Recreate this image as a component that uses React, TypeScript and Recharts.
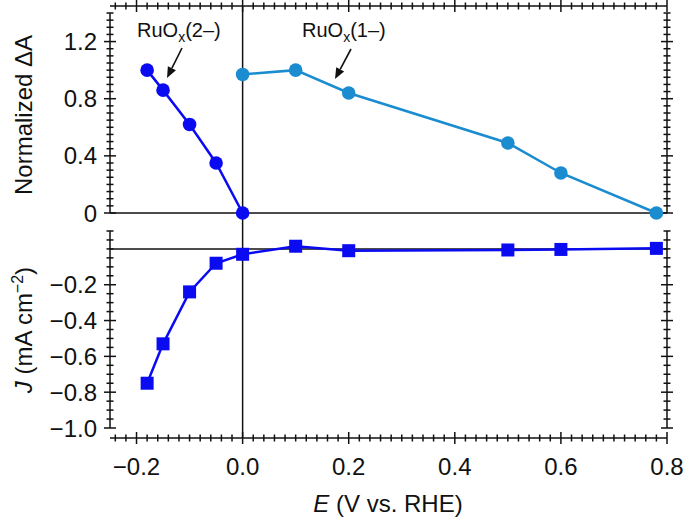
import { LineChart, Line, XAxis, YAxis, ReferenceLine, Customized } from 'recharts';

// RuOx(2-) : potential (V vs RHE) and normalized dA
const E_2 = [-0.18, -0.15, -0.1, -0.05, 0.0];
const dA_2 = [1.0, 0.86, 0.62, 0.35, 0.0];

// RuOx(1-)
const E_1 = [0.0, 0.1, 0.2, 0.5, 0.6, 0.78];
const dA_1 = [0.97, 1.0, 0.84, 0.49, 0.28, 0.0];

// current density (mA cm-2)
const E_J = [-0.18, -0.15, -0.1, -0.05, 0.0, 0.1, 0.2, 0.5, 0.6, 0.78];
const J = [-0.75, -0.53, -0.24, -0.08, -0.03, 0.015, -0.01, -0.006, -0.003, 0.003];

const X_MAJOR = [-0.2, 0, 0.2, 0.4, 0.6, 0.8];
const TOP_MAJOR = [0, 0.4, 0.8, 1.2];
const BOT_MAJOR = [-1.0, -0.8, -0.6, -0.4, -0.2];

const range = (a: number, b: number, step: number) => {
  const out: number[] = [];
  const n = Math.round((b - a) / step);
  for (let i = 0; i <= n; i++) out.push(+(a + i * step).toFixed(3));
  return out;
};
const X_TICKS = range(-0.24, 0.8, 0.02);
const TOP_TICKS = range(0, 1.4, 0.05);
const BOT_TICKS = range(-1.0, 0.1, 0.05);

const ruox2 = E_2.map((x, i) => ({ x, y: dA_2[i] }));
const ruox1 = E_1.map((x, i) => ({ x, y: dA_1[i] }));
const current = E_J.map((x, i) => ({ x, y: J[i] }));

const X_DOMAIN: [number, number] = [-0.25, 0.8];
const TOP_DOMAIN: [number, number] = [0, 1.4];
const BOT_DOMAIN: [number, number] = [-1.0, 0.1];

const BLUE = '#0b0bf2';
const LIGHT = '#1a8ccf';
const INK = '#111111';
const FONT = '"Liberation Sans", Arial, Helvetica, sans-serif';

// plot boxes (axes are detached from each other, so each lives in its own layer)
const M_TOP = { top: 13, right: 18, bottom: 308, left: 110 };
const M_BOT = { top: 231, right: 18, bottom: 93, left: 110 };
const M_X = { top: 6, right: 18, bottom: 83, left: 110 };
const leftOf = (m: any) => ({ ...m, left: m.left - 60 });
const rightOf = (m: any) => ({ ...m, right: m.right - 10 });

const fmtY = (v: number) => (Math.abs(v) < 1e-9 ? '0' : v.toFixed(1).replace('-', '\u2212'));
const fmtX = (v: number) => (Math.abs(v) < 1e-9 ? '0.0' : v.toFixed(1).replace('-', '\u2212'));
const isMajor = (majors: number[], v: number) => majors.some((m) => Math.abs(m - v) < 1e-6);

// cross tick through the axis line
const tickPath = (dir: 'x' | 'y', majors: number[]) => (p: any) => {
  const len = isMajor(majors, p.payload.value) ? 6 : 3.5;
  const x = Number(p.x);
  const y = Number(p.y);
  const d = dir === 'y' ? `M${x - len},${y}H${x + len}` : `M${x},${y - len}V${y + len}`;
  return <path d={d} stroke={INK} strokeWidth={1.5} fill="none" />;
};

const yLabel = (p: any) => (
  <text x={Number(p.x) - 13} y={Number(p.y)} dy="0.36em" textAnchor="end" fontSize={24} fontFamily={FONT} fill={INK}>
    {fmtY(p.payload.value)}
  </text>
);

const xLabel = (p: any) => (
  <text x={Number(p.x)} y={Number(p.y) + 37} textAnchor="middle" fontSize={24} fontFamily={FONT} fill={INK}>
    {fmtX(p.payload.value)}
  </text>
);

const Arrow = ({ x1, y1, x2, y2 }: { x1: number; y1: number; x2: number; y2: number }) => {
  const a = Math.atan2(y2 - y1, x2 - x1);
  const L = 11;
  const w = 4.5;
  const bx = x2 - L * Math.cos(a);
  const by = y2 - L * Math.sin(a);
  const px = -Math.sin(a) * w;
  const py = Math.cos(a) * w;
  return (
    <g>
      <line x1={x1} y1={y1} x2={bx} y2={by} stroke={INK} strokeWidth={1.6} />
      <polygon points={`${x2},${y2} ${bx + px},${by + py} ${bx - px},${by - py}`} fill={INK} />
    </g>
  );
};

const Annotations = () => (
  <g fontFamily={FONT} fill={INK}>
    <text x={137} y={37} fontSize={20}>
      RuO<tspan fontSize={14} dy={5}>x</tspan>
      <tspan dy={-5}>(2–)</tspan>
    </text>
    <text x={302} y={37} fontSize={20}>
      RuO<tspan fontSize={14} dy={5}>x</tspan>
      <tspan dy={-5}>(1–)</tspan>
    </text>
    <Arrow x1={182} y1={48} x2={167} y2={78} />
    <Arrow x1={351} y1={49} x2={335} y2={79} />
    <text transform="translate(32,115) rotate(-90)" textAnchor="middle" fontSize={24}>
      Normalized ΔA
    </text>
    <text transform="translate(32,330) rotate(-90)" textAnchor="middle" fontSize={24}>
      <tspan fontStyle="italic">J</tspan> (mA cm<tspan fontSize={16} dy={-9}>−2</tspan>
      <tspan dy={9}>)</tspan>
    </text>
    <text x={388} y={512} textAnchor="middle" fontSize={24}>
      <tspan fontStyle="italic">E</tspan> (V vs. RHE)
    </text>
  </g>
);

const layer: React.CSSProperties = { position: 'absolute', left: 0, top: 0 };

// invisible series so that every layer's axes carry data
const Ghost = ({ data }: { data: { x: number; y: number }[] }) => (
  <Line data={data} dataKey="y" stroke="none" dot={false} activeDot={false} isAnimationActive={false} />
);

const HiddenX = () => <XAxis type="number" dataKey="x" domain={X_DOMAIN} hide />;

export default function App() {
  return (
    <div style={{ position: 'absolute', left: 0, top: 0, width: 685, height: 521, background: '#fff' }}>
      {/* top x axis + x = 0 guide running through both panels */}
      <div style={layer}>
        <LineChart width={685} height={521} margin={M_X}>
          <XAxis type="number" dataKey="x" domain={X_DOMAIN} ticks={X_TICKS} interval={0} orientation="top" mirror
            tickSize={0} tickMargin={0} tickLine={false} tick={tickPath('x', X_MAJOR)} axisLine={{ stroke: INK, strokeWidth: 1.5 }} />
          <YAxis hide />
          <ReferenceLine x={0} stroke={INK} strokeWidth={1.5} />
          {Ghost({ data: current })}
        </LineChart>
      </div>

      {/* bottom x axis */}
      <div style={layer}>
        <LineChart width={685} height={521} margin={M_X}>
          <XAxis type="number" dataKey="x" domain={X_DOMAIN} ticks={X_TICKS} interval={0} orientation="bottom" mirror
            tickSize={0} tickMargin={0} tickLine={false} tick={tickPath('x', X_MAJOR)} axisLine={{ stroke: INK, strokeWidth: 1.5 }} />
          <YAxis hide />
          {Ghost({ data: current })}
        </LineChart>
      </div>

      {/* bottom x tick labels */}
      <div style={layer}>
        <LineChart width={685} height={521} margin={M_X}>
          <XAxis type="number" dataKey="x" domain={X_DOMAIN} ticks={X_MAJOR} interval={0} orientation="bottom" mirror
            tickSize={0} tickMargin={0} tickLine={false} tick={xLabel} axisLine={false} />
          <YAxis hide />
          {Ghost({ data: current })}
        </LineChart>
      </div>

      {/* upper panel: right axis */}
      <div style={layer}>
        <LineChart width={685} height={521} margin={rightOf(M_TOP)}>
          {HiddenX()}
          <YAxis orientation="right" type="number" domain={TOP_DOMAIN} ticks={TOP_TICKS} interval={0} width={10}
            tickSize={0} tickMargin={0} tickLine={false} tick={tickPath('y', TOP_MAJOR)} axisLine={{ stroke: INK, strokeWidth: 1.5 }} />
          {Ghost({ data: ruox1 })}
        </LineChart>
      </div>

      {/* upper panel: left tick labels */}
      <div style={layer}>
        <LineChart width={685} height={521} margin={leftOf(M_TOP)}>
          {HiddenX()}
          <YAxis type="number" domain={TOP_DOMAIN} ticks={TOP_MAJOR} interval={0} width={60}
            tickSize={0} tickMargin={0} tickLine={false} tick={yLabel} axisLine={false} />
          {Ghost({ data: ruox1 })}
        </LineChart>
      </div>

      {/* upper panel: normalized absorbance change */}
      <div style={layer}>
        <LineChart width={685} height={521} margin={leftOf(M_TOP)}>
          {HiddenX()}
          <YAxis type="number" domain={TOP_DOMAIN} ticks={TOP_TICKS} interval={0} width={60}
            tickSize={0} tickMargin={0} tickLine={false} tick={tickPath('y', TOP_MAJOR)} axisLine={{ stroke: INK, strokeWidth: 1.5 }} />
          <ReferenceLine y={0} stroke={INK} strokeWidth={1.5} />
          <Line data={ruox2} dataKey="y" type="linear" stroke={BLUE} strokeWidth={2.5}
            dot={{ r: 6.8, fill: BLUE, stroke: 'none' }} activeDot={false} isAnimationActive={false} />
          <Line data={ruox1} dataKey="y" type="linear" stroke={LIGHT} strokeWidth={2.5}
            dot={{ r: 6.8, fill: LIGHT, stroke: 'none' }} activeDot={false} isAnimationActive={false} />
          <Customized component={Annotations} />
        </LineChart>
      </div>

      {/* lower panel: right axis */}
      <div style={layer}>
        <LineChart width={685} height={521} margin={rightOf(M_BOT)}>
          {HiddenX()}
          <YAxis orientation="right" type="number" domain={BOT_DOMAIN} ticks={BOT_TICKS} interval={0} width={10}
            tickSize={0} tickMargin={0} tickLine={false} tick={tickPath('y', BOT_MAJOR)} axisLine={{ stroke: INK, strokeWidth: 1.5 }} />
          {Ghost({ data: current })}
        </LineChart>
      </div>

      {/* lower panel: left tick labels */}
      <div style={layer}>
        <LineChart width={685} height={521} margin={leftOf(M_BOT)}>
          {HiddenX()}
          <YAxis type="number" domain={BOT_DOMAIN} ticks={BOT_MAJOR} interval={0} width={60}
            tickSize={0} tickMargin={0} tickLine={false} tick={yLabel} axisLine={false} />
          {Ghost({ data: current })}
        </LineChart>
      </div>

      {/* lower panel: current density */}
      <div style={layer}>
        <LineChart width={685} height={521} margin={leftOf(M_BOT)}>
          {HiddenX()}
          <YAxis type="number" domain={BOT_DOMAIN} ticks={BOT_TICKS} interval={0} width={60}
            tickSize={0} tickMargin={0} tickLine={false} tick={tickPath('y', BOT_MAJOR)} axisLine={{ stroke: INK, strokeWidth: 1.5 }} />
          <ReferenceLine y={0} stroke={INK} strokeWidth={1.5} />
          <Line data={current} dataKey="y" type="linear" stroke={BLUE} strokeWidth={2.5}
            dot={(p: any) => (
              <rect key={`sq-${p.index}`} x={p.cx - 6.5} y={p.cy - 6.5} width={13} height={13} fill={BLUE} />
            )}
            activeDot={false} isAnimationActive={false} />
        </LineChart>
      </div>
    </div>
  );
}
